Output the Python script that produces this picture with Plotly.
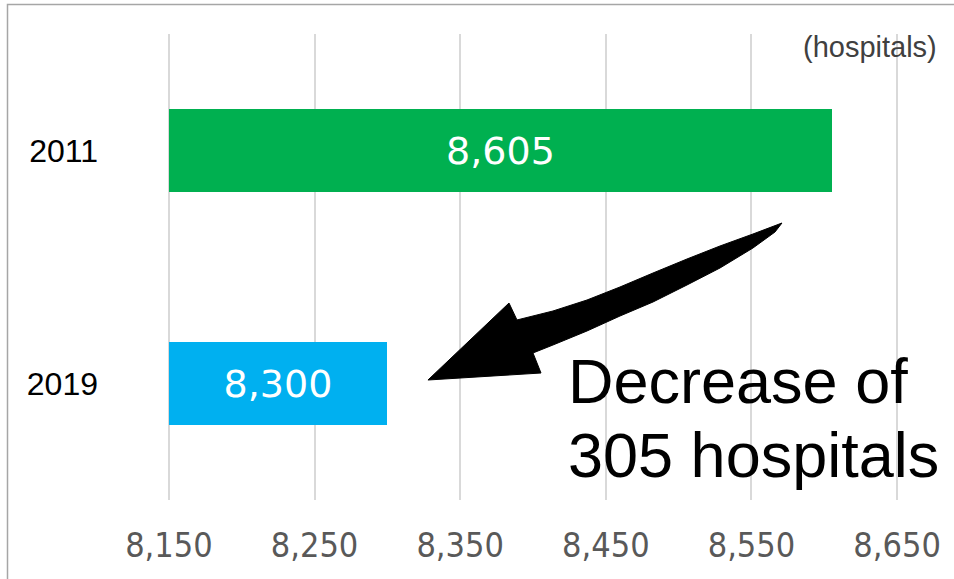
import plotly.graph_objects as go

# Number of hospitals by year
years = ["2011", "2019"]
hospitals = [8605, 8300]
bar_colors = ["#00B050", "#00B0F0"]

# Value axis
axis_min = 8150
axis_max = 8650
tick_values = [8150, 8250, 8350, 8450, 8550, 8650]

unit_label = "(hospitals)"
note_lines = ["Decrease of", "305 hospitals"]

W, H = 954, 579
L, R, T, B = 166, 54, 34, 79
PW, PH = W - L - R, H - T - B
PAD = 2  # small range padding so the edge gridlines are kept


def px(x, y):
    """Convert canvas pixel position to paper coordinates."""
    return (x - L) / PW, (H - B - y) / PH


fig = go.Figure()
fig.add_trace(go.Bar(
    y=years,
    x=[v - axis_min for v in hospitals],
    base=axis_min,
    orientation="h",
    width=0.355,
    marker=dict(color=bar_colors, line=dict(width=0)),
    text=[f"{v:,}" for v in hospitals],
    textposition="inside",
    insidetextanchor="middle",
    textfont=dict(family="DejaVu Sans, Verdana, sans-serif", size=38, color="white"),
    hoverinfo="skip",
))

# Hand-drawn style arrow pointing from the 2011 bar down to the 2019 bar
arrow_pts = [
    (782, 223), (753, 234), (720, 246), (687, 259), (653, 273), (620, 287),
    (587, 300), (553, 311), (517, 320), (509, 303), (428, 380), (541, 373),
    (533, 353), (553, 345), (587, 331), (620, 316), (653, 302), (687, 285),
    (720, 268), (753, 248), (775, 232),
]
path = ""
for i, (x, y) in enumerate(arrow_pts):
    u, v = px(x, y)
    path += ("M" if i == 0 else "L") + f"{u:.4f},{v:.4f} "
path += "Z"

bx0, by1 = px(7.5, 4.5)
bx1, by0 = px(W + 10, H + 10)

fig.update_layout(
    width=W, height=H,
    margin=dict(l=L, r=R, t=T, b=B),
    paper_bgcolor="white", plot_bgcolor="white",
    showlegend=False,
    bargap=0,
    xaxis=dict(
        range=[axis_min - PAD, axis_max + PAD],
        tickvals=tick_values,
        tickformat=",",
        showgrid=True, gridcolor="#D9D9D9", gridwidth=1.5,
        zeroline=False, showline=False, ticks="",
        ticklabelstandoff=22,
        tickfont=dict(family="DejaVu Sans Condensed, Liberation Sans Narrow, DejaVu Sans, sans-serif",
                      size=34, color="#595959"),
    ),
    yaxis=dict(
        type="category",
        categoryarray=years,
        range=[1.5, -0.5],
        showgrid=False, zeroline=False, showline=False, ticks="",
        ticklabelstandoff=67,
        tickfont=dict(family="Liberation Sans, Arial, sans-serif", size=32, color="black"),
    ),
    shapes=[
        dict(type="path", path=path, xref="paper", yref="paper",
             fillcolor="black", line=dict(color="black", width=1), layer="above"),
        dict(type="rect", xref="paper", yref="paper",
             x0=bx0, x1=bx1, y0=by0, y1=by1,
             line=dict(color="#A6A6A6", width=1.5), fillcolor="rgba(0,0,0,0)"),
    ],
)

ux, uy = px(939, 47)
fig.add_annotation(text=unit_label, xref="paper", yref="paper", x=ux, y=uy,
                   xanchor="right", yanchor="middle", showarrow=False,
                   font=dict(family="Liberation Sans, Arial, sans-serif", size=29, color="#404040"))

for line, cy in zip(note_lines, [381, 455]):
    nx, ny = px(566, cy)
    fig.add_annotation(text=line, xref="paper", yref="paper", x=nx, y=ny,
                       xanchor="left", yanchor="middle", showarrow=False,
                       font=dict(family="Liberation Sans, Arial, sans-serif", size=63, color="black"))

fig.write_html("out.html")
